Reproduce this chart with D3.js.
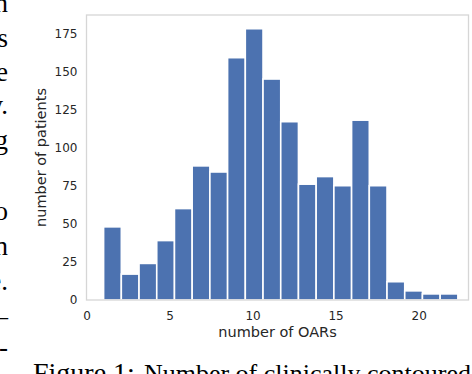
<!DOCTYPE html>
<html>
<head>
<meta charset="utf-8">
<script src="https://cdn.jsdelivr.net/npm/d3@7"></script>
<style>
  body { margin: 0; background: #fff; }
  svg { display: block; }
</style>
</head>
<body>
<svg id="chart" width="472" height="374"></svg>
<script>
// histogram counts, one per bin
const counts = [48, 17, 24, 39, 60, 88, 84, 159, 178, 145, 117, 76, 81, 75, 118, 75, 12, 6, 4, 4];
// histogram range (number of OARs)
const binLo = 1.03;
const binHi = 22.36;
const xTicks = [0, 5, 10, 15, 20];
const yTicks = [0, 25, 50, 75, 100, 125, 150, 175];
const xLabel = "number of OARs";
const yLabel = "number of patients";

// cropped paper text around the figure
const sideText = ["n", "s", "e", "y.", "g", "", "o", "n", "e.", "_", "-"];
const sideBase = [12, 47, 81, 114, 149, 184, 220, 255, 290, 316, 356];

const svg = d3.select("#chart");

const margin = {left: 86.5, right: 3.5, top: 15, bottom: 74};
const W = 472, H = 374;

const x = d3.scaleLinear().domain([0, 23]).range([margin.left, W - margin.right]);
const y = d3.scaleLinear().domain([0, 187]).range([H - margin.bottom, margin.top]);

const binW = (binHi - binLo) / counts.length;
const bins = counts.map((c, i) => ({x0: binLo + i * binW, x1: binLo + (i + 1) * binW, n: c}));

// bars
svg.append("g")
  .selectAll("rect")
  .data(bins)
  .enter()
  .append("rect")
  .attr("x", d => x(d.x0))
  .attr("y", d => y(d.n))
  .attr("width", d => x(d.x1) - x(d.x0))
  .attr("height", d => y(0) - y(d.n))
  .attr("fill", "#4c72b0")
  .attr("stroke", "#fff")
  .attr("stroke-width", 1.6);

// frame
svg.append("rect")
  .attr("x", x(0))
  .attr("y", y(187))
  .attr("width", x(23) - x(0))
  .attr("height", y(0) - y(187))
  .attr("fill", "none")
  .attr("stroke", "#d6d6d6")
  .attr("stroke-width", 1.3);

// axes without tick lines
const xAxis = svg.append("g")
  .attr("transform", `translate(0, ${y(0)})`)
  .call(d3.axisBottom(x).tickValues(xTicks).tickSize(0).tickPadding(11));
const yAxis = svg.append("g")
  .attr("transform", `translate(${x(0)}, 0)`)
  .call(d3.axisLeft(y).tickValues(yTicks).tickSize(0).tickPadding(9));
[xAxis, yAxis].forEach(g => {
  g.select(".domain").remove();
  g.selectAll("text")
    .style("font-family", "DejaVu Sans, sans-serif")
    .style("font-size", "12px")
    .attr("fill", "#262626");
});

svg.append("text")
  .attr("x", (x(0) + x(23)) / 2)
  .attr("y", 337)
  .attr("text-anchor", "middle")
  .style("font-family", "DejaVu Sans, sans-serif")
  .style("font-size", "14.5px")
  .attr("fill", "#262626")
  .text(xLabel);

svg.append("text")
  .attr("transform", `translate(46, ${(y(0) + y(187)) / 2}) rotate(-90)`)
  .attr("text-anchor", "middle")
  .style("font-family", "DejaVu Sans, sans-serif")
  .style("font-size", "14.5px")
  .attr("fill", "#262626")
  .text(yLabel);

// paper text fragments
svg.append("g")
  .selectAll("text")
  .data(sideText)
  .enter()
  .append("text")
  .attr("x", 8)
  .attr("y", (d, i) => sideBase[i])
  .attr("text-anchor", "end")
  .style("font-family", "Liberation Serif, serif")
  .style("font-size", "27px")
  .attr("fill", "#000")
  .text(d => d);

const cap = svg.append("text")
  .attr("x", 33)
  .attr("y", 382)
  .style("font-family", "Liberation Serif, serif")
  .attr("fill", "#000");
cap.append("tspan").style("font-size", "28px").text("Figure 1:");
cap.append("tspan").style("font-size", "26px").attr("dx", 9).text("Number of clinically contoured");
</script>
</body>
</html>
